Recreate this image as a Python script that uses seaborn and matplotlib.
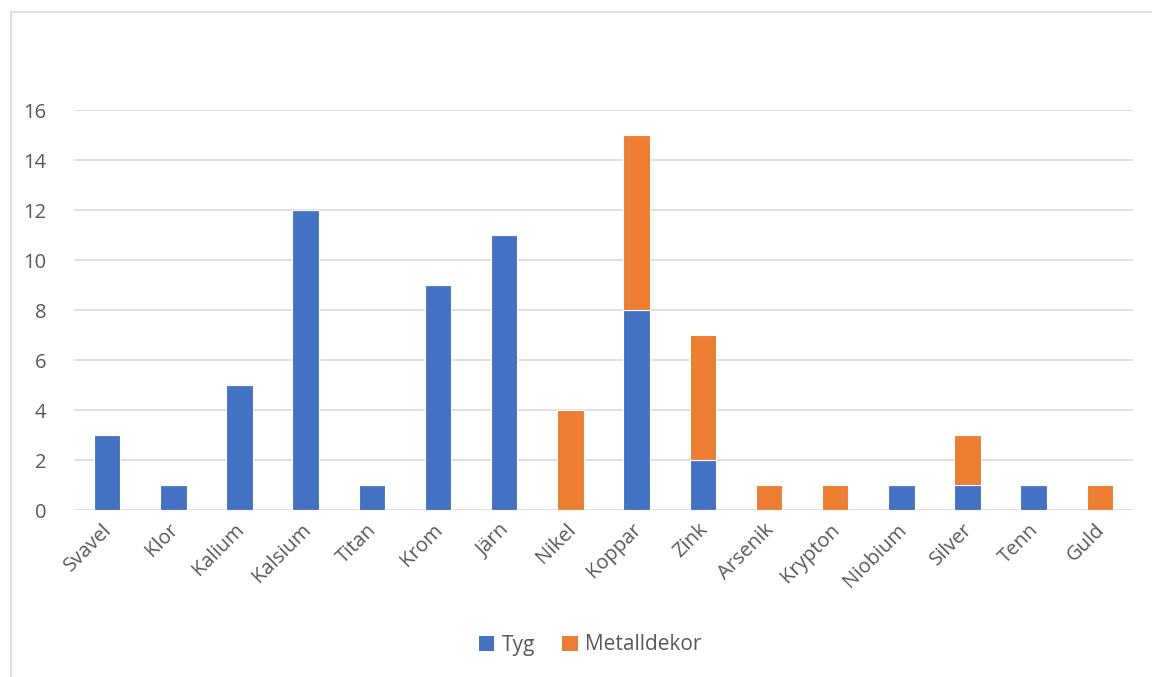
import matplotlib
matplotlib.use("Agg")
import matplotlib.pyplot as plt
import seaborn as sns
import pandas as pd
from matplotlib.patches import Patch, Rectangle
from matplotlib.transforms import ScaledTranslation

# Element counts per material
elements = ["Svavel", "Klor", "Kalium", "Kalsium", "Titan", "Krom", "Järn", "Nikel",
            "Koppar", "Zink", "Arsenik", "Krypton", "Niobium", "Silver", "Tenn", "Guld"]
tyg = [3, 1, 5, 12, 1, 9, 11, 0, 8, 2, 0, 0, 1, 1, 1, 0]
metalldekor = [0, 0, 0, 0, 0, 0, 0, 4, 7, 5, 1, 1, 0, 2, 0, 1]
series_names = ["Tyg", "Metalldekor"]
y_ticks = [0, 2, 4, 6, 8, 10, 12, 14, 16]

BLUE = "#4472C4"
ORANGE = "#ED7D31"
GRID = "#D9D9D9"
TEXT = "#595959"

sns.set_theme(style="white")
plt.rcParams["font.family"] = ["Open Sans", "DejaVu Sans"]

df = pd.DataFrame({"element": elements, "tyg": tyg, "metall": metalldekor})

W, H = 1152, 677
fig = plt.figure(figsize=(W / 100, H / 100), dpi=100)
ax = fig.add_axes([74 / W, 1 - 510 / H, (1133 - 74) / W, (510 - 110) / H])

sns.barplot(data=df, x="element", y="tyg", color=BLUE, width=0.4, saturation=1,
            edgecolor="white", linewidth=0.8, ax=ax, zorder=3)
sns.barplot(data=df, x="element", y="metall", bottom=df["tyg"], color=ORANGE, width=0.4,
            saturation=1, edgecolor="white", linewidth=0.8, ax=ax, zorder=3)

ax.set_ylim(0, 16)
ax.set_xlim(-0.5, len(elements) - 0.5)
ax.set_yticks(y_ticks)
ax.yaxis.grid(True, color=GRID, linewidth=1.2, zorder=0)
ax.set_axisbelow(True)
for s in ax.spines.values():
    s.set_visible(False)
ax.set_xlabel("")
ax.set_ylabel("")
ax.tick_params(axis="y", length=0, pad=20, labelsize=14.5, labelcolor=TEXT)
ax.tick_params(axis="x", length=0, pad=7, labelsize=14.5, labelcolor=TEXT)
shift = ScaledTranslation(-5 / 100, 0, fig.dpi_scale_trans)
for lbl in ax.get_xticklabels():
    lbl.set_rotation(45)
    lbl.set_ha("right")
    lbl.set_rotation_mode("anchor")
    lbl.set_transform(lbl.get_transform() + shift)

handles = [Patch(facecolor=BLUE, edgecolor="none"), Patch(facecolor=ORANGE, edgecolor="none")]
fig.legend(handles, series_names, loc="center", bbox_to_anchor=(590 / W, 1 - 645 / H),
           ncol=2, frameon=False, fontsize=15, labelcolor=TEXT,
           handlelength=0.75, handleheight=0.75, handletextpad=0.35, columnspacing=1.3)

# outer chart-area border
fig.patches.append(Rectangle((10.5 / W, -0.1), 1.2, 1 - 11.5 / H + 0.1,
                             transform=fig.transFigure, fill=False,
                             edgecolor=GRID, linewidth=1.2, zorder=0))

fig.savefig("out.png", dpi=100, facecolor="white")
